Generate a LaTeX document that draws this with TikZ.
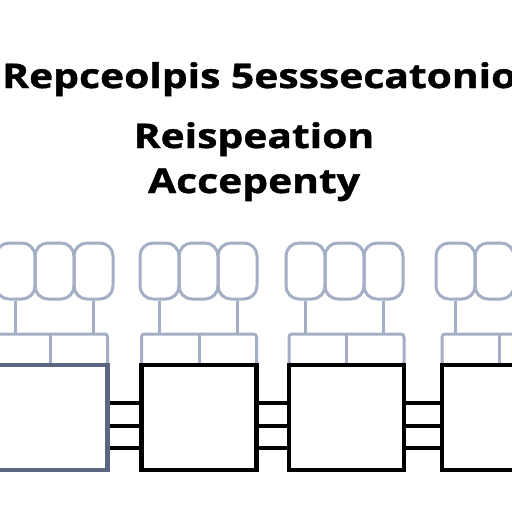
\documentclass[tikz,border=0pt]{standalone}
\usepackage{fontspec}
\setmainfont{Open Sans}
\newfontfamily\headfont[FakeStretch=1.2,FakeBold=1.2]{Open Sans}
\usepackage{tikz}
\usetikzlibrary{calc}
\definecolor{ovalblue}{RGB}{164,175,198}
\definecolor{slate}{RGB}{92,102,128}
\tikzset{
  oval/.style={draw=ovalblue, line width=3pt, rounded corners=13pt, minimum width=39pt, minimum height=56pt, inner sep=0pt},
  head/.style={draw=ovalblue, line width=3pt, rounded corners=3pt, minimum width=115pt, minimum height=31pt, inner sep=0pt},
  block/.style={draw=black, fill=white, line width=4.5pt, minimum width=115pt, minimum height=105pt, inner sep=0pt},
  stem/.style={draw=ovalblue, line width=3pt},
  wire/.style={draw=black, line width=4pt},
  title/.style={font=\headfont\bfseries\fontsize{34}{34}\selectfont, inner sep=0pt}
}

\begin{document}
\begin{tikzpicture}[x=1pt,y=-1pt]
\fill[white] (0,0) rectangle (512,512);
\useasboundingbox (0,0) rectangle (512,512);
% titles
\node[title, anchor=base west] (line1) at (2,88) {Repceolpis 5esssecatoniot};
\node[title, anchor=base] (line2) at (254,148) {Reispeation};
\node[title, anchor=base] (line3) at (254,193) {Accepenty};
% ovals
\node[oval] (o11) at (15.5,271) {};
\node[oval] (o12) at (54.5,271) {};
\node[oval] (o13) at (93.5,271) {};
\node[oval] (o21) at (159.5,271) {};
\node[oval] (o22) at (198.5,271) {};
\node[oval] (o23) at (237.5,271) {};
\node[oval] (o31) at (305.5,271) {};
\node[oval] (o32) at (344.5,271) {};
\node[oval] (o33) at (383.5,271) {};
\node[oval] (o41) at (455.5,271) {};
\node[oval] (o42) at (494.5,271) {};
% header strips
\node[head] (h1) at (50,349.5) {};
\node[head] (h2) at (199,349.5) {};
\node[head] (h3) at (346.5,349.5) {};
\node[head] (h4) at (499.5,349.5) {};
\draw[stem] (h1.north) -- (h1.south);
\draw[stem] (h2.north) -- (h2.south);
\draw[stem] (h3.north) -- (h3.south);
\draw[stem] (h4.north) -- (h4.south);
% stems
\draw[stem] (o11.south) -- (o11.south |- h1.north);
\draw[stem] (o13.south) -- (o13.south |- h1.north);
\draw[stem] (o21.south) -- (o21.south |- h2.north);
\draw[stem] (o23.south) -- (o23.south |- h2.north);
\draw[stem] (o31.south) -- (o31.south |- h3.north);
\draw[stem] (o33.south) -- (o33.south |- h3.north);
\draw[stem] (o41.south) -- (o41.south |- h4.north);
% blocks
\node[block, draw=slate] (b1) at (50,417.5) {};
\node[block] (b2) at (199,417.5) {};
\node[block] (b3) at (346.5,417.5) {};
\node[block] (b4) at (499.5,417.5) {};
% wires
\draw[wire] (b1.east |- 0,403) -- (b2.west |- 0,403);
\draw[wire] (b1.east |- 0,426) -- (b2.west |- 0,426);
\draw[wire] (b1.east |- 0,448) -- (b2.west |- 0,448);
\draw[wire] (b2.east |- 0,403) -- (b3.west |- 0,403);
\draw[wire] (b2.east |- 0,426) -- (b3.west |- 0,426);
\draw[wire] (b2.east |- 0,448) -- (b3.west |- 0,448);
\draw[wire] (b3.east |- 0,403) -- (b4.west |- 0,403);
\draw[wire] (b3.east |- 0,426) -- (b4.west |- 0,426);
\draw[wire] (b3.east |- 0,448) -- (b4.west |- 0,448);
\end{tikzpicture}
\end{document}
